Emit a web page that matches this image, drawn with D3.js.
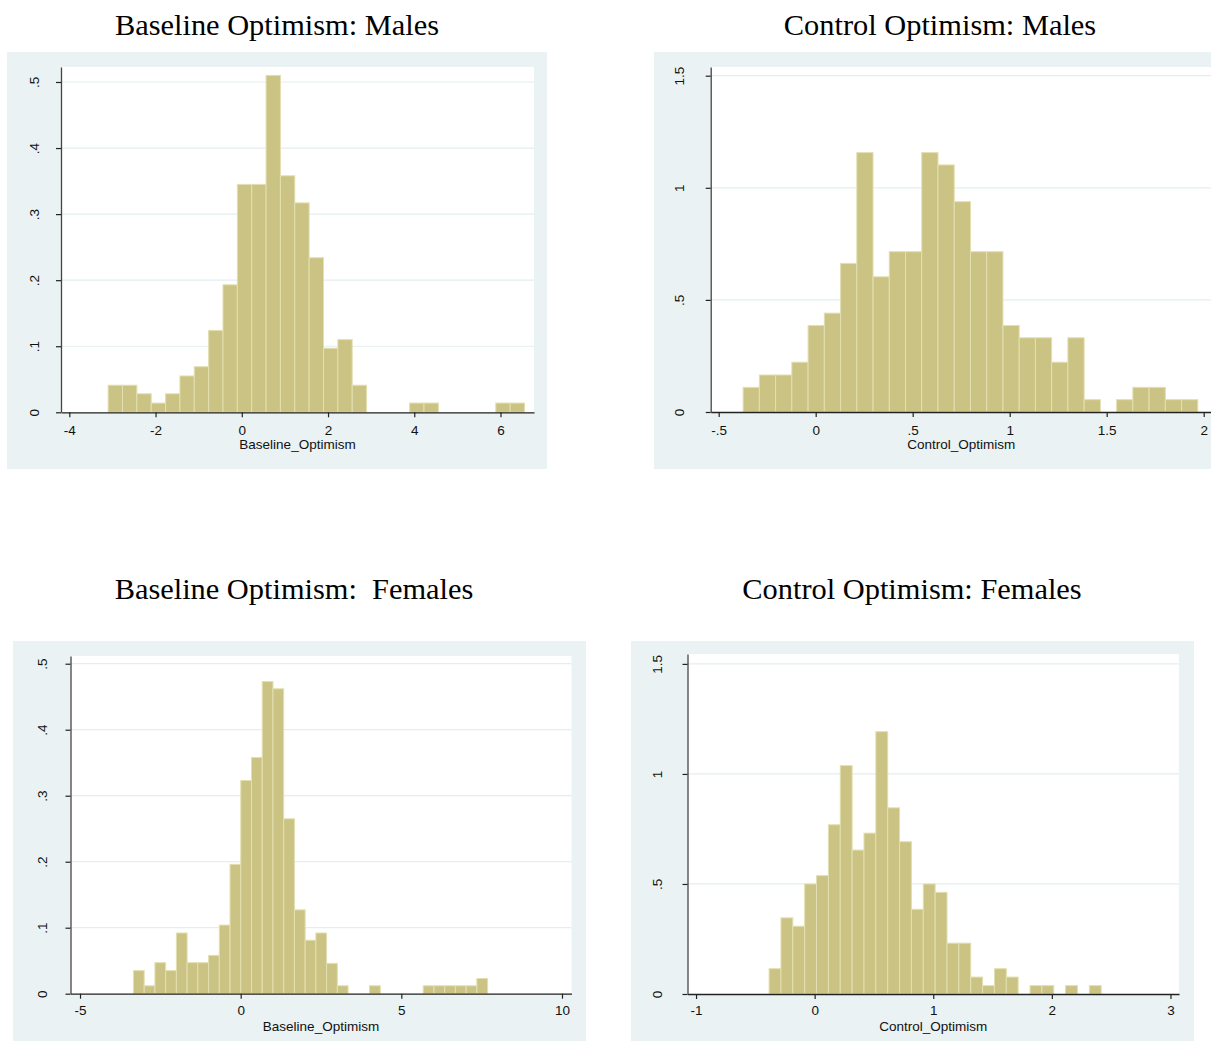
<!DOCTYPE html>
<html><head><meta charset="utf-8">
<script src="https://cdn.jsdelivr.net/npm/d3@7"></script>
<style>body{margin:0;background:#fff}svg{display:block}</style>
</head><body>
<svg id="c" width="1211" height="1043"></svg>
<script>
// ---------- data ----------
const titles = ["Baseline Optimism: Males", "Control Optimism: Males", "Baseline Optimism:  Females", "Control Optimism: Females"];
const xAxisTitles = ["Baseline_Optimism", "Control_Optimism", "Baseline_Optimism", "Control_Optimism"];
const binStarts = [-3.1, -0.374, -3.337, -0.384];
const binWidths = [0.333, 0.0837, 0.334, 0.1];
const densMaleBaseline = [0.041,0.041,0.028,0.014,0.028,0.055,0.069,0.124,0.193,0.345,0.345,0.510,0.358,0.317,0.234,0.097,0.110,0.041,0,0,0,0.014,0.014,0,0,0,0,0.014,0.014];
const densMaleControl = [0.110,0.165,0.165,0.222,0.386,0.441,0.663,1.157,0.603,0.715,0.715,1.157,1.102,0.938,0.715,0.715,0.386,0.331,0.331,0.222,0.331,0.055,0,0.055,0.110,0.110,0.055,0.055];
const densFemaleBaseline = [0.035,0.012,0.047,0.035,0.092,0.047,0.047,0.058,0.104,0.196,0.323,0.358,0.473,0.462,0.265,0.127,0.081,0.092,0.046,0.012,0,0,0.012,0,0,0,0,0.012,0.012,0.012,0.012,0.012,0.023];
const densFemaleControl = [0.115,0.346,0.308,0.500,0.538,0.769,1.038,0.654,0.731,1.192,0.846,0.692,0.385,0.500,0.462,0.231,0.231,0.077,0.038,0.115,0.077,0,0.038,0.038,0,0.038,0,0.038];
const xTicksMaleBaseline = [-4,-2,0,2,4,6];
const xTicksMaleControl = [-0.5,0,0.5,1,1.5,2];
const xTicksFemaleBaseline = [-5,0,5,10];
const xTicksFemaleControl = [-1,0,1,2,3];
const yTicksBaseline = [0,0.1,0.2,0.3,0.4,0.5];
const yTicksControl = [0,0.5,1,1.5];

const densities = [densMaleBaseline, densMaleControl, densFemaleBaseline, densFemaleControl];
const xTicks = [xTicksMaleBaseline, xTicksMaleControl, xTicksFemaleBaseline, xTicksFemaleControl];
const yTicks = [yTicksBaseline, yTicksControl, yTicksBaseline, yTicksControl];

// ---------- layout ----------
const layout = [
  {tx:277, ty:35, bg:[7,52,540,417],  px:[61,534],    py:[67,412.3], xd:[-4.193,6.777], yd:[0,0.5227], yOff:22, lOff:23, tOff:37},
  {tx:940, ty:35, bg:[654,52,600,417], px:[710.7,1212], py:[67,412],   xd:[-0.5412,2.0428], yd:[0,1.5388], yOff:27, lOff:23, tOff:37},
  {tx:294, ty:599, bg:[13,641,573,400], px:[70.5,571.5], py:[656,993.7], xd:[-5.296,10.296], yd:[0,0.5117], yOff:24, lOff:21, tOff:37},
  {tx:912, ty:599, bg:[631,641,563,400], px:[687.5,1179], py:[654,994], xd:[-1.072,3.072], yd:[0,1.545], yOff:26, lOff:21, tOff:37}
];

const BG = "#eaf2f3", BAR = "#cbc383", BAR_EDGE = "#e3dfb1", GRID = "#e3eef0", AXIS = "#222";
const fmt = d => String(+d.toFixed(4)).replace(/^(-?)0\./, "$1.");

const svg = d3.select("#c");
svg.append("rect").attr("width",1211).attr("height",1043).attr("fill","#fff");

layout.forEach((L, k) => {
  const g = svg.append("g");
  // title
  g.append("text").attr("x", L.tx).attr("y", L.ty).attr("text-anchor","middle")
    .style("white-space","pre")
    .attr("font-family","'Liberation Serif','Times New Roman',serif").attr("font-size",30.4).attr("fill","#000")
    .text(titles[k]);
  // graph region
  g.append("rect").attr("x",L.bg[0]).attr("y",L.bg[1]).attr("width",L.bg[2]).attr("height",L.bg[3]).attr("fill",BG);
  // plot region
  g.append("rect").attr("x",L.px[0]).attr("y",L.py[0]).attr("width",L.px[1]-L.px[0]).attr("height",L.py[1]-L.py[0]).attr("fill","#fff");

  const x = d3.scaleLinear().domain(L.xd).range(L.px);
  const y = d3.scaleLinear().domain(L.yd).range([L.py[1], L.py[0]]);

  // gridlines
  g.append("g").selectAll("line").data(yTicks[k].filter(v => v > 0)).join("line")
    .attr("x1", L.px[0]).attr("x2", L.px[1]).attr("y1", d => y(d)).attr("y2", d => y(d))
    .attr("stroke", GRID).attr("stroke-width", 1.2);

  // bars
  const bins = densities[k].map((d, i) => ({x0: binStarts[k] + i*binWidths[k], x1: binStarts[k] + (i+1)*binWidths[k], d}))
    .filter(b => b.d > 0);
  g.append("g").selectAll("rect").data(bins).join("rect")
    .attr("x", b => x(b.x0)).attr("width", b => x(b.x1) - x(b.x0))
    .attr("y", b => y(b.d)).attr("height", b => y(0) - y(b.d))
    .attr("fill", BAR).attr("stroke", BAR_EDGE).attr("stroke-width", 1);

  // x axis
  const xa = g.append("g").attr("transform", `translate(0,${L.py[1]})`)
    .call(d3.axisBottom(x).tickValues(xTicks[k]).tickFormat(fmt).tickSize(5).tickSizeOuter(0).tickPadding(6));
  xa.select(".domain").attr("stroke", AXIS).attr("stroke-width", 1.3);
  xa.selectAll(".tick line").attr("stroke", AXIS).attr("stroke-width", 1.2);
  xa.selectAll(".tick text").attr("font-family","'Liberation Sans',Arial,sans-serif").attr("font-size",13.5).attr("fill","#111")
    .attr("y", L.lOff).attr("dy", 0);
  g.append("text").attr("x", (L.px[0]+L.px[1])/2).attr("y", L.py[1] + L.tOff).attr("text-anchor","middle")
    .attr("font-family","'Liberation Sans',Arial,sans-serif").attr("font-size",13.5).attr("fill","#111")
    .text(xAxisTitles[k]);

  // y axis
  const ya = g.append("g").attr("transform", `translate(${L.px[0]},0)`)
    .call(d3.axisLeft(y).tickValues(yTicks[k]).tickFormat(fmt).tickSize(5).tickSizeOuter(0));
  ya.select(".domain").attr("stroke", "#444").attr("stroke-width", 1.3);
  ya.selectAll(".tick line").attr("stroke", AXIS).attr("stroke-width", 1.2);
  ya.selectAll(".tick text").attr("font-family","'Liberation Sans',Arial,sans-serif").attr("font-size",13.5).attr("fill","#111")
    .attr("transform","rotate(-90)").attr("x", 0).attr("y", -L.yOff).attr("dy", 0).attr("text-anchor","middle");
});
</script>
</body></html>
